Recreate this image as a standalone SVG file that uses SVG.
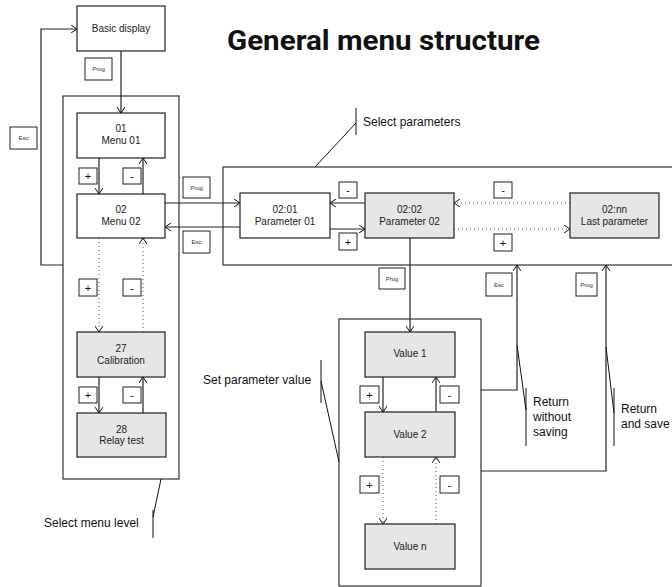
<svg xmlns="http://www.w3.org/2000/svg" width="672" height="587" viewBox="0 0 672 587">
<defs>
<marker id="ah" markerUnits="userSpaceOnUse" viewBox="0 0 6 8" refX="6" refY="4" markerWidth="6" markerHeight="8" orient="auto">
<path d="M0,0 L6,4 L0,8" fill="none" stroke="#111" stroke-width="1"/>
</marker>
</defs>
<style>
.bg{fill:#fff}
.cont{fill:none;stroke:#333;stroke-width:1.2}
.node{fill:#fff;stroke:#222;stroke-width:1.2}
.gnode{fill:#e6e6e6;stroke:#222;stroke-width:1.2}
.key{fill:#fff;stroke:#222;stroke-width:1}
.t{font-family:"Liberation Sans",Arial,sans-serif;font-size:10px;fill:#222;text-anchor:middle}
.ts{font-family:"Liberation Sans",Arial,sans-serif;font-size:6px;fill:#333;text-anchor:middle}
.tk{font-family:"Liberation Sans",Arial,sans-serif;font-size:11px;fill:#111;text-anchor:middle}
.tc{font-family:"Liberation Sans",Arial,sans-serif;font-size:12px;fill:#111}
.ln{fill:none;stroke:#222;stroke-width:1.2}
.ar{fill:none;stroke:#222;stroke-width:1.2;marker-end:url(#ah)}
.dot{fill:none;stroke:#555;stroke-width:1;stroke-dasharray:1 3}
.dar{fill:none;stroke:#555;stroke-width:1;stroke-dasharray:1 3;marker-end:url(#ah)}
.co{fill:none;stroke:#111;stroke-width:1}
</style>
<rect class="bg" x="0" y="0" width="672" height="587"/>
<text x="227" y="50" font-family="Roboto,'DejaVu Sans',sans-serif" font-weight="bold" font-size="28" fill="#111" textLength="313" lengthAdjust="spacingAndGlyphs">General menu structure</text>

<g id="containers">
<rect class="cont" x="63" y="96" width="116" height="383"/>
<rect class="cont" x="223" y="167" width="460" height="98"/>
<rect class="cont" x="339" y="319" width="142" height="267"/>
</g>

<g id="connectors">
<path class="ar" d="M63,265 H41 V29 H77"/>
<path class="ar" d="M121,51 V113"/>
<path class="ar" d="M99,158 V194"/>
<path class="ar" d="M143,194 V158"/>
<path class="dar" d="M99,238 V332"/>
<path class="dar" d="M143,332 V238"/>
<path class="ar" d="M99,377 V413"/>
<path class="ar" d="M143,413 V377"/>
<path class="ar" d="M165,203 H240"/>
<path class="ar" d="M240,227 H165"/>
<path class="ar" d="M365,203 H330"/>
<path class="ar" d="M330,229 H365"/>
<path class="dar" d="M570,203 H454"/>
<path class="dar" d="M454,229 H570"/>
<path class="ar" d="M410,238 V332"/>
<path class="ar" d="M383,377 V412"/>
<path class="ar" d="M436,412 V377"/>
<path class="dar" d="M383,457 V524"/>
<path class="dar" d="M436,524 V457"/>
<path class="ar" d="M481,390 H517 V265"/>
<path class="ar" d="M481,471 H606 V265"/>
</g>

<g id="callouts">
<path class="co" d="M161,479 L153,517 M153,510 V538"/>
<text class="tc" x="44" y="527">Select menu level</text>
<path class="co" d="M315,167 L356,123 M356,108 V135"/>
<text class="tc" x="363" y="126">Select parameters</text>
<path class="co" d="M339,462 L321,381 M321,360 V403"/>
<text class="tc" x="203" y="384">Set parameter value</text>
<path class="co" d="M517,345 L526,410 M526,388 V446"/>
<text class="tc" x="533" y="406">Return</text>
<text class="tc" x="533" y="421">without</text>
<text class="tc" x="533" y="436">saving</text>
<path class="co" d="M606,347 L614,413 M614,388 V446"/>
<text class="tc" x="621" y="413">Return</text>
<text class="tc" x="621" y="428">and save</text>
</g>

<g id="keys">
<rect class="key" x="85" y="58" width="27" height="22"/><text class="ts" x="98.5" y="71">Prog</text>
<rect class="key" x="10" y="127" width="27" height="22"/><text class="ts" x="23.5" y="140">Esc</text>
<rect class="key" x="183" y="177" width="27" height="21"/><text class="ts" x="196.5" y="189.5">Prog</text>
<rect class="key" x="183" y="231" width="27" height="22"/><text class="ts" x="196.5" y="244">Esc</text>
<rect class="key" x="379" y="268" width="26" height="21"/><text class="ts" x="392" y="280.5">Prog</text>
<rect class="key" x="486" y="273" width="26" height="23"/><text class="ts" x="499" y="286.5">Esc</text>
<rect class="key" x="576" y="273" width="21" height="23"/><text class="ts" x="586.5" y="286.5">Prog</text>
<rect class="key" x="79" y="168" width="18" height="16"/><text class="tk" x="88" y="180">+</text>
<rect class="key" x="123" y="168" width="18" height="16"/><text class="tk" x="132" y="180">-</text>
<rect class="key" x="79" y="279" width="18" height="17"/><text class="tk" x="88" y="291.5">+</text>
<rect class="key" x="123" y="279" width="18" height="17"/><text class="tk" x="132" y="291.5">-</text>
<rect class="key" x="79" y="387" width="18" height="16"/><text class="tk" x="88" y="399">+</text>
<rect class="key" x="123" y="387" width="18" height="16"/><text class="tk" x="132" y="399">-</text>
<rect class="key" x="339" y="182" width="18" height="16"/><text class="tk" x="348" y="194">-</text>
<rect class="key" x="339" y="233" width="18" height="17"/><text class="tk" x="348" y="245.5">+</text>
<rect class="key" x="494" y="182" width="18" height="16"/><text class="tk" x="503" y="194">-</text>
<rect class="key" x="494" y="234" width="18" height="17"/><text class="tk" x="503" y="246.5">+</text>
<rect class="key" x="360" y="386" width="19" height="17"/><text class="tk" x="369.5" y="398.5">+</text>
<rect class="key" x="440" y="386" width="19" height="17"/><text class="tk" x="449.5" y="398.5">-</text>
<rect class="key" x="360" y="476" width="19" height="17"/><text class="tk" x="369.5" y="488.5">+</text>
<rect class="key" x="440" y="476" width="19" height="17"/><text class="tk" x="449.5" y="488.5">-</text>
</g>

<g id="basic-display">
<rect class="node" x="77" y="6" width="88" height="45"/>
<text class="t" x="121" y="32">Basic display</text>
</g>
<g id="menu01">
<rect class="node" x="77" y="113" width="88" height="45"/>
<text class="t" x="121" y="132">01</text>
<text class="t" x="121" y="144">Menu 01</text>
</g>
<g id="menu02">
<rect class="node" x="77" y="194" width="88" height="44"/>
<text class="t" x="121" y="213">02</text>
<text class="t" x="121" y="225">Menu 02</text>
</g>
<g id="menu27">
<rect class="gnode" x="77" y="332" width="88" height="45"/>
<text class="t" x="121" y="352">27</text>
<text class="t" x="121" y="364">Calibration</text>
</g>
<g id="menu28">
<rect class="gnode" x="77" y="413" width="89" height="44"/>
<text class="t" x="121.5" y="433">28</text>
<text class="t" x="121.5" y="444">Relay test</text>
</g>
<g id="param01">
<rect class="node" x="240" y="193" width="90" height="45"/>
<text class="t" x="285" y="213">02:01</text>
<text class="t" x="285" y="225">Parameter 01</text>
</g>
<g id="param02">
<rect class="gnode" x="365" y="193" width="89" height="45"/>
<text class="t" x="409.5" y="213">02:02</text>
<text class="t" x="409.5" y="225">Parameter 02</text>
</g>
<g id="param-nn">
<rect class="gnode" x="570" y="193" width="89" height="45"/>
<text class="t" x="614.5" y="213">02:nn</text>
<text class="t" x="614.5" y="225">Last parameter</text>
</g>
<g id="value1">
<rect class="gnode" x="365" y="332" width="90" height="45"/>
<text class="t" x="410" y="357" font-size="9">Value 1</text>
</g>
<g id="value2">
<rect class="gnode" x="365" y="412" width="90" height="45"/>
<text class="t" x="410" y="438" font-size="9">Value 2</text>
</g>
<g id="value-n">
<rect class="gnode" x="365" y="524" width="90" height="45"/>
<text class="t" x="410" y="550" font-size="9">Value n</text>
</g>
</svg>
